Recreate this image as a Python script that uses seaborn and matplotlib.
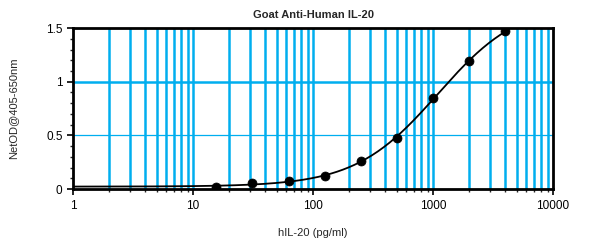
import numpy as np
import pandas as pd
import seaborn as sns
import matplotlib
matplotlib.use("Agg")
import matplotlib.pyplot as plt
from matplotlib.ticker import FixedLocator, NullFormatter

# dados
conc = [15.6, 31.25, 62.5, 125, 250, 500, 1000, 2000, 4000]
od = [0.02, 0.055, 0.075, 0.12, 0.26, 0.48, 0.85, 1.19, 1.47]
x_ticks = [1, 10, 100, 1000, 10000]
x_labels = ["1", "10", "100", "1000", "10000"]
y_ticks = [0, 0.5, 1, 1.5]
y_labels = ["0", "0.5", "1", "1.5"]

points = pd.DataFrame({"conc": conc, "od": od})

# ajuste 4PL simples (busca em grade para B e C, A/D por minimos quadrados)
xs = np.array(conc)
ys = np.array(od)
best = None
for B in np.linspace(0.5, 3, 126):
    for logC in np.linspace(2, 5, 301):
        g = 1 / (1 + (xs / 10**logC) ** B)
        M = np.column_stack([g, 1 - g])
        coef, *_ = np.linalg.lstsq(M, ys, rcond=None)
        err = np.sum((M @ coef - ys) ** 2)
        if best is None or err < best[0]:
            best = (err, B, logC, coef)
_, B, logC, (A, D) = best
xfit = np.logspace(0, np.log10(4300), 300)
gfit = 1 / (1 + (xfit / 10**logC) ** B)
curve = pd.DataFrame({"conc": xfit, "od": A * gfit + D * (1 - gfit)})

sns.set_style("ticks")
plt.rcParams["font.family"] = ["Liberation Sans", "DejaVu Sans"]

fig = plt.figure(figsize=(5.89, 2.44), dpi=100)
ax = fig.add_axes([0.124, 0.225, 0.815, 0.66])

blue = "#00AEEF"
ax.set_xscale("log")
ax.set_xlim(1, 10000)
ax.set_ylim(0, 1.5)

# linhas de grade verticais
for dec in [1, 10, 100, 1000]:
    for m in range(2, 11):
        v = dec * m
        if v < 10000:
            ax.axvline(v, color=blue, lw=1.8, zorder=1)
ax.axhline(1, color=blue, lw=1.8, zorder=1)
ax.axhline(0.5, color=blue, lw=0.9, zorder=1)

sns.lineplot(data=curve, x="conc", y="od", color="black", lw=1.3, ax=ax, zorder=3)
sns.scatterplot(data=points, x="conc", y="od", color="black", s=42, edgecolor="black",
                ax=ax, zorder=4)

ax.xaxis.set_major_locator(FixedLocator(x_ticks))
ax.set_xticklabels(x_labels)
ax.xaxis.set_minor_locator(FixedLocator([d * m for d in [1, 10, 100, 1000] for m in range(2, 10)]))
ax.xaxis.set_minor_formatter(NullFormatter())
ax.set_yticks(y_ticks)
ax.set_yticklabels(y_labels)
ax.yaxis.set_minor_locator(FixedLocator(np.arange(0, 1.51, 0.1)))

ax.tick_params(axis="both", which="major", labelsize=8.5, length=4, width=1.2, colors="black")
ax.tick_params(axis="both", which="minor", length=2, width=1)
for s in ax.spines.values():
    s.set_linewidth(2)
    s.set_color("black")

ax.set_xlabel("hIL-20 (pg/ml)", fontsize=8, labelpad=12)
ax.set_ylabel("NetOD@405-650nm", fontsize=8, labelpad=20)
ax.set_title("Goat Anti-Human IL-20", fontsize=8, fontweight="bold", pad=7)

fig.savefig("out.png", dpi=100)
